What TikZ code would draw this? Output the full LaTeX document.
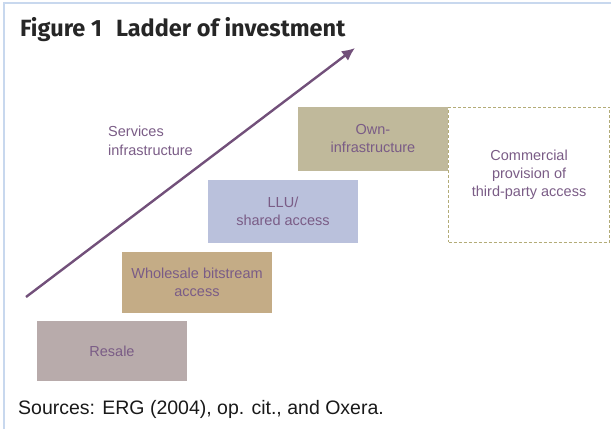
\documentclass[tikz,border=0pt]{standalone}
\usepackage{fontspec}
\setmainfont{Liberation Sans}
\newfontfamily\titlefont{Fira Sans}
\usepackage{xcolor}
\usetikzlibrary{arrows.meta, positioning}

\definecolor{resalefill}{HTML}{B8ABAB}
\definecolor{bitfill}{HTML}{C4AC86}
\definecolor{llufill}{HTML}{BAC1DC}
\definecolor{ownfill}{HTML}{C0B99B}
\definecolor{dashline}{HTML}{B3AC78}
\definecolor{rungtext}{HTML}{7A5C86}
\definecolor{ladderline}{HTML}{72507A}
\definecolor{framecol}{HTML}{C8D8EE}

\begin{document}
\begin{tikzpicture}[
    x=1pt, y=-1pt,
    rung/.style={rectangle, inner sep=0pt, minimum width=150pt, text=rungtext, align=center, font=\fontsize{14.5}{18}\selectfont},
    note/.style={text=rungtext, align=left, inner sep=0pt, font=\fontsize{14.5}{19}\selectfont},
]

\useasboundingbox (0,0) rectangle (611,429);
\draw[framecol, line width=1.2pt] (4,429) -- (4,3) -- (611,3);

\node[anchor=base west, inner sep=0pt, font=\titlefont\bfseries\fontsize{23.5}{26}\selectfont, text=black!85] (title) at (20,36) {Figure 1\hspace{0.6em}Ladder of investment};

% the rungs
\node[rung, fill=resalefill, minimum height=60pt] (resale) at (112,351) {Resale};
\node[rung, fill=bitfill, minimum height=61pt] (bitstream) at (197,282.5) {Wholesale bitstream\\access};
\node[rung, fill=llufill, minimum height=63pt] (llu) at (283,211.5) {LLU/\\shared access};
\node[rung, fill=ownfill, minimum height=64pt] (owninfra) at (373,139) {Own-\\infrastructure};
\node[rung, draw=dashline, densely dashed, line width=0.8pt, minimum width=161pt, minimum height=135pt, anchor=north west] (commercial) at (owninfra.north east) {Commercial\\provision of\\third-party access};

% investment arrow
\coordinate (foot) at (26,297);
\coordinate (top) at (355,48);
\draw[ladderline, line width=2.4pt, -{Latex[length=13pt, width=12pt]}] (foot) -- (top);
\node[note, anchor=north west] (services) at (108,126) {Services\\infrastructure};

\node[anchor=base west, inner sep=0pt, font=\fontsize{19.5}{22}\selectfont, text=black!90] (sources) at (18,414) {Sources: ERG (2004), op. cit., and Oxera.};

\end{tikzpicture}
\end{document}
